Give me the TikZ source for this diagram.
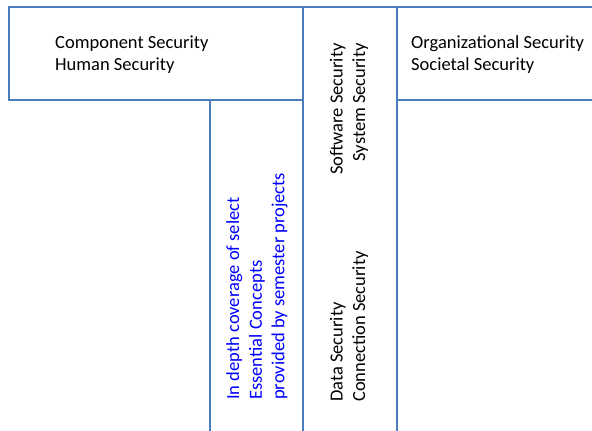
\documentclass[tikz,border=0pt]{standalone}
\usepackage{fontspec}
\setmainfont{Carlito}
\definecolor{secline}{HTML}{4A7EBB}
\definecolor{projblue}{HTML}{0000FF}
\tikzset{
  secbox/.style={draw=secline, line width=1.9pt, inner sep=0pt, outer sep=0pt, anchor=north west},
  seclabel/.style={inner sep=0pt, align=left, font=\fontsize{18.5}{22.6}\selectfont},
}

\begin{document}
\begin{tikzpicture}[x=1pt,y=-1pt]
\useasboundingbox (0,0) rectangle (592,431);
\clip (0,0) rectangle (592,431);
% boxes
\node[secbox, minimum width=294pt, minimum height=93pt] (comp) at (9,7) {};
\node[secbox, minimum width=94pt, minimum height=440pt] (mid) at (comp.north east) {};
\node[secbox, minimum width=210pt, minimum height=93pt] (org) at (mid.north east) {};
\node[secbox, minimum width=93pt, minimum height=347pt, anchor=north east] (proj) at (comp.south east) {};
% texts
\node[seclabel, anchor=west] (comptext) at (55,54.5) {Component Security\\Human Security};
\node[seclabel, anchor=west] (orgtext) at (411,54.5) {Organizational Security\\Societal Security};
\node[seclabel, rotate=90, anchor=east, align=right] (swtext) at (349,43) {Software Security\\System Security};
\node[seclabel, rotate=90, anchor=west] (datatext) at (349,402) {Data Security\\Connection Security};
\node[seclabel, rotate=90, anchor=west, text=projblue] (projtext) at (257,400) {In depth coverage of select\\Essential Concepts\\provided by semester projects};
\end{tikzpicture}
\end{document}
